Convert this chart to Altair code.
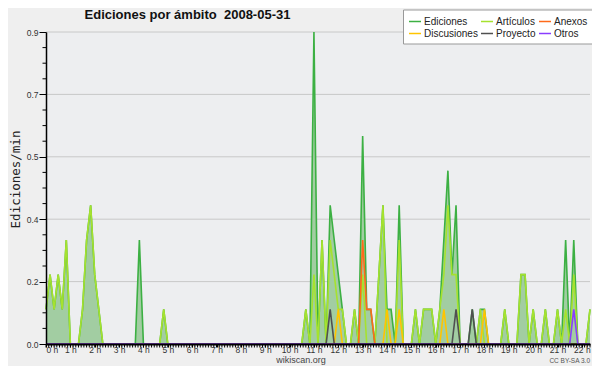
import altair as alt
import pandas as pd

# ---- data (10-minute bins, value = edits per minute) ----
N_BINS = 135  # 0:00 .. 22:20
BINS_PER_HOUR = 6

ediciones_bins = [0, 1, 2, 3, 4, 5, 9, 10, 11, 12, 13, 23, 29, 64, 66, 68, 70, 71, 72, 73,
                  76, 78, 79, 80, 82, 83, 84, 85, 87, 91, 93, 94, 95, 97, 98, 99, 100, 101,
                  105, 107, 108, 113, 117, 118, 120, 123, 126, 128, 130, 134]
ediciones_vals = [0.1, 0.2, 0.1, 0.2, 0.1, 0.3, 0.1, 0.3, 0.4, 0.2, 0.1, 0.3, 0.1, 0.1, 0.9, 0.3, 0.4, 0.3, 0.2, 0.1,
                  0.1, 0.6, 0.1, 0.1, 0.2, 0.4, 0.1, 0.1, 0.4, 0.1, 0.1, 0.1, 0.1, 0.1, 0.3, 0.5, 0.2, 0.4,
                  0.1, 0.1, 0.1, 0.1, 0.2, 0.2, 0.1, 0.1, 0.1, 0.3, 0.3, 0.1]

articulos_bins = [0, 1, 2, 3, 4, 5, 9, 10, 11, 12, 13, 29, 64, 66, 68, 70, 71, 72, 73,
                  76, 78, 82, 83, 87, 91, 93, 94, 95, 97, 98, 99, 100, 101,
                  107, 113, 117, 118, 120, 123, 126, 128, 130, 134]
articulos_vals = [0.1, 0.2, 0.1, 0.2, 0.1, 0.3, 0.1, 0.3, 0.4, 0.2, 0.1, 0.1, 0.1, 0.2, 0.3, 0.3, 0.2, 0.1, 0.1,
                  0.1, 0.2, 0.2, 0.4, 0.3, 0.1, 0.1, 0.1, 0.1, 0.1, 0.2, 0.4, 0.2, 0.2,
                  0.1, 0.1, 0.2, 0.2, 0.1, 0.1, 0.1, 0.1, 0.2, 0.1]

anexos_bins = [78, 79, 80]
anexos_vals = [0.3, 0.1, 0.1]

discusiones_bins = [72, 84, 87, 98, 108]
discusiones_vals = [0.1, 0.1, 0.1, 0.1, 0.1]

proyecto_bins = [70, 101, 105]
proyecto_vals = [0.1, 0.1, 0.1]

otros_bins = [130]
otros_vals = [0.1]

series_names = ["Ediciones", "Artículos", "Anexos", "Discusiones", "Proyecto", "Otros"]
series_colors = ["#3cb043", "#a6e22e", "#ff6a1a", "#ffc400", "#505050", "#8a3cff"]
series_data = [(ediciones_bins, ediciones_vals), (articulos_bins, articulos_vals),
               (anexos_bins, anexos_vals), (discusiones_bins, discusiones_vals),
               (proyecto_bins, proyecto_vals), (otros_bins, otros_vals)]

y_major = [0, 0.18, 0.36, 0.54, 0.72, 0.9]
y_minor = [round(0.045 * k, 4) for k in range(21) if k % 4 != 0]
x_hours = list(range(23))
x_minor = [k / 9 for k in range(202)]

title_text = "Ediciones por ámbito\u00a0 2008-05-31"
footer_text = "wikiscan.org"
license_text = "CC BY-SA 3.0"

# ---- build tables ----
rows = []
for name, (bins, vals) in zip(series_names, series_data):
    full = [0.0] * N_BINS
    for b, v in zip(bins, vals):
        full[b] = v
    for i, v in enumerate(full):
        rows.append({"serie": name, "t": i / BINS_PER_HOUR, "v": v})
df = pd.DataFrame(rows)
df_total = df[df["serie"] == "Ediciones"]

W, H = 544, 312
xdom = [0, (N_BINS - 1) / BINS_PER_HOUR]
xscale = alt.Scale(domain=xdom, nice=False, zero=False)
yscale = alt.Scale(domain=[0, 0.9], nice=False)

xaxis = alt.Axis(values=x_hours, labelExpr="datum.value + ' h'", title=None,
                 tickSize=3, labelPadding=-2, domainColor="#000", domainWidth=2,
                 tickColor="#000", labelFontSize=8.5, labelColor="#333",
                 grid=False, zindex=1, labelFont="Liberation Sans")
yaxis = alt.Axis(values=y_major, format=".1f", title="Ediciones/min",
                 tickSize=7, labelPadding=1, domainColor="#000", domainWidth=1.5,
                 tickColor="#000", labelFontSize=8.5, labelColor="#333",
                 grid=False, zindex=1, labelFont="Liberation Sans",
                 titleFont="DejaVu Sans Mono", titleFontSize=12.5, titleFontWeight="normal",
                 titleColor="#222", titleX=-31, titleY=147, titleBaseline="middle",
                 titleAngle=270)

X = alt.X("t:Q", scale=xscale, axis=xaxis)
Y = alt.Y("v:Q", scale=yscale, axis=yaxis)

grid = alt.Chart(pd.DataFrame({"v": y_major[1:]})).mark_rule(
    color="#c8c8c8", strokeWidth=1
).encode(y=Y)

area = alt.Chart(df_total).mark_area(color="#a2cda2", opacity=1, interpolate="linear").encode(
    x=X, y=Y)

lines = alt.Chart(df).mark_line(strokeWidth=1.6, interpolate="linear").encode(
    x=X, y=Y,
    color=alt.Color("serie:N", scale=alt.Scale(domain=series_names, range=series_colors),
                    legend=alt.Legend(orient="none", legendX=357, legendY=-22.5, columns=3,
                                      direction="horizontal",
                                      title=None, symbolType="stroke", symbolSize=144,
                                      symbolStrokeWidth=1.5, labelFontSize=10,
                                      labelFont="Liberation Sans", labelColor="#222",
                                      fillColor="#ffffff", strokeColor="#999999",
                                      padding=5, rowPadding=0, columnPadding=0,
                                      labelOffset=2)),
)

# legend drop shadow (decorative)
shadow = alt.Chart(pd.DataFrame({"k": [0]})).mark_rect(color="#8c8c8c").encode(
    x=alt.value(360), x2=alt.value(548), y=alt.value(-19.5), y2=alt.value(11.5))

xticks = alt.Chart(pd.DataFrame({"t": x_minor})).mark_rule(color="#000", strokeWidth=1).encode(
    x=X, y=alt.value(H), y2=alt.value(H + 3.5))

yticks = alt.Chart(pd.DataFrame({"v": y_minor})).mark_rule(color="#000", strokeWidth=1).encode(
    y=Y, x=alt.value(-3.5), x2=alt.value(0))

title = alt.Chart(pd.DataFrame({"s": [title_text]})).mark_text(
    font="Liberation Sans", fontSize=13, fontWeight="bold", color="#111",
    align="center", baseline="alphabetic").encode(
    text="s:N", x=alt.value(141.5), y=alt.value(-13.5))

footer = alt.Chart(pd.DataFrame({"s": [footer_text]})).mark_text(
    font="Liberation Sans", fontSize=9, color="#444", align="center",
    baseline="alphabetic").encode(text="s:N", x=alt.value(255), y=alt.value(331))

lic = alt.Chart(pd.DataFrame({"s": [license_text]})).mark_text(
    font="Liberation Sans", fontSize=6.5, color="#555", align="right",
    baseline="alphabetic").encode(text="s:N", x=alt.value(544), y=alt.value(331))

chart = alt.layer(grid, area, lines, shadow, xticks, yticks, title, footer, lic).properties(
    width=W, height=H,
    autosize=alt.AutoSizeParams(type="none"),
    padding={"left": 38, "top": 24, "right": 2, "bottom": 22},
    background="#efefef",
).configure_view(fill="#edeef0", stroke=None)

chart.save("out.html", embed_options={"renderer": "svg", "actions": False})
